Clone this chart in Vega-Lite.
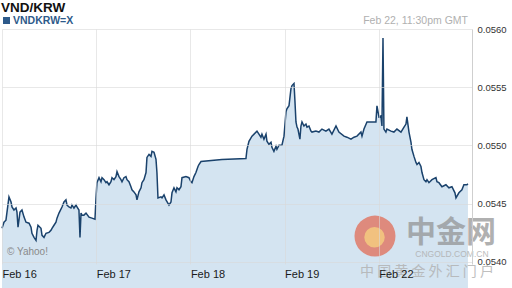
{
  "$schema": "https://vega.github.io/schema/vega-lite/v6.json",
  "width": 470,
  "height": 235,
  "autosize": {"type": "none"},
  "padding": {"left": 2, "top": 29, "right": 40, "bottom": 24},
  "background": "#ffffff",
  "config": {"view": {"stroke": null}, "font": "Liberation Sans"},
  "datasets": {
    "rate": [
      {"t":0.000,"v":0.054287},{"t":0.021,"v":0.054339},{"t":0.042,"v":0.054357},{"t":0.074,"v":0.054557},
      {"t":0.096,"v":0.054513},{"t":0.106,"v":0.054470},{"t":0.127,"v":0.054444},{"t":0.149,"v":0.054461},
      {"t":0.159,"v":0.054426},{"t":0.170,"v":0.054296},{"t":0.191,"v":0.054426},{"t":0.212,"v":0.054444},
      {"t":0.234,"v":0.054383},{"t":0.255,"v":0.054339},{"t":0.287,"v":0.054331},{"t":0.308,"v":0.054296},
      {"t":0.318,"v":0.054244},{"t":0.340,"v":0.054209},{"t":0.361,"v":0.054183},{"t":0.372,"v":0.054270},
      {"t":0.382,"v":0.054313},{"t":0.414,"v":0.054287},{"t":0.425,"v":0.054226},{"t":0.446,"v":0.054209},
      {"t":0.467,"v":0.054244},{"t":0.499,"v":0.054252},{"t":0.520,"v":0.054270},{"t":0.531,"v":0.054287},
      {"t":0.552,"v":0.054313},{"t":0.573,"v":0.054339},{"t":0.584,"v":0.054374},{"t":0.605,"v":0.054418},
      {"t":0.637,"v":0.054470},{"t":0.658,"v":0.054513},{"t":0.679,"v":0.054531},{"t":0.690,"v":0.054487},
      {"t":0.711,"v":0.054470},{"t":0.732,"v":0.054461},{"t":0.743,"v":0.054487},{"t":0.764,"v":0.054461},
      {"t":0.786,"v":0.054487},{"t":0.796,"v":0.054470},{"t":0.817,"v":0.054444},{"t":0.828,"v":0.054209},
      {"t":0.839,"v":0.054418},{"t":0.849,"v":0.054400},{"t":0.870,"v":0.054400},{"t":0.892,"v":0.054418},
      {"t":0.924,"v":0.054383},{"t":0.955,"v":0.054374},{"t":0.987,"v":0.054365},{"t":0.998,"v":0.054548},
      {"t":1.008,"v":0.054679},{"t":1.030,"v":0.054722},{"t":1.051,"v":0.054687},{"t":1.062,"v":0.054722},
      {"t":1.083,"v":0.054705},{"t":1.104,"v":0.054679},{"t":1.115,"v":0.054687},{"t":1.136,"v":0.054661},
      {"t":1.157,"v":0.054687},{"t":1.168,"v":0.054722},{"t":1.189,"v":0.054705},{"t":1.210,"v":0.054731},
      {"t":1.221,"v":0.054774},{"t":1.242,"v":0.054731},{"t":1.263,"v":0.054705},{"t":1.274,"v":0.054687},
      {"t":1.295,"v":0.054722},{"t":1.316,"v":0.054731},{"t":1.327,"v":0.054705},{"t":1.348,"v":0.054687},
      {"t":1.369,"v":0.054644},{"t":1.380,"v":0.054618},{"t":1.401,"v":0.054600},{"t":1.423,"v":0.054574},
      {"t":1.433,"v":0.054531},{"t":1.454,"v":0.054600},{"t":1.476,"v":0.054635},{"t":1.486,"v":0.054679},
      {"t":1.507,"v":0.054705},{"t":1.529,"v":0.054766},{"t":1.539,"v":0.054896},{"t":1.561,"v":0.054922},
      {"t":1.582,"v":0.054905},{"t":1.592,"v":0.054948},{"t":1.614,"v":0.054940},{"t":1.635,"v":0.054879},
      {"t":1.645,"v":0.054766},{"t":1.656,"v":0.054548},{"t":1.688,"v":0.054557},{"t":1.699,"v":0.054548},
      {"t":1.720,"v":0.054574},{"t":1.741,"v":0.054531},{"t":1.773,"v":0.054487},{"t":1.794,"v":0.054513},
      {"t":1.805,"v":0.054592},{"t":1.826,"v":0.054635},{"t":1.847,"v":0.054600},{"t":1.858,"v":0.054635},
      {"t":1.879,"v":0.054618},{"t":1.900,"v":0.054644},{"t":1.911,"v":0.054722},{"t":1.953,"v":0.054731},
      {"t":1.985,"v":0.054722},{"t":2.006,"v":0.054687},{"t":2.017,"v":0.054679},{"t":2.038,"v":0.054731},
      {"t":2.059,"v":0.054766},{"t":2.081,"v":0.054818},{"t":2.091,"v":0.054835},{"t":2.113,"v":0.054861},
      {"t":2.335,"v":0.054879},{"t":2.590,"v":0.054887},{"t":2.601,"v":0.054966},{"t":2.622,"v":0.055035},
      {"t":2.654,"v":0.055079},{"t":2.707,"v":0.055122},{"t":2.728,"v":0.055096},{"t":2.749,"v":0.055070},
      {"t":2.760,"v":0.055096},{"t":2.781,"v":0.055053},{"t":2.803,"v":0.055096},{"t":2.813,"v":0.055035},
      {"t":2.834,"v":0.055009},{"t":2.856,"v":0.055027},{"t":2.866,"v":0.054983},{"t":2.887,"v":0.054948},
      {"t":2.909,"v":0.054992},{"t":2.919,"v":0.054966},{"t":2.941,"v":0.055001},{"t":2.972,"v":0.055001},
      {"t":2.994,"v":0.055079},{"t":3.015,"v":0.055288},{"t":3.025,"v":0.055314},{"t":3.047,"v":0.055340},
      {"t":3.068,"v":0.055488},{"t":3.079,"v":0.055514},{"t":3.100,"v":0.055531},{"t":3.110,"v":0.055383},
      {"t":3.121,"v":0.055201},{"t":3.132,"v":0.055157},{"t":3.142,"v":0.055140},{"t":3.163,"v":0.055053},
      {"t":3.174,"v":0.055166},{"t":3.185,"v":0.055201},{"t":3.206,"v":0.055166},{"t":3.227,"v":0.055183},
      {"t":3.238,"v":0.055157},{"t":3.259,"v":0.055166},{"t":3.280,"v":0.055122},{"t":3.291,"v":0.055114},
      {"t":3.333,"v":0.055122},{"t":3.365,"v":0.055114},{"t":3.397,"v":0.055140},{"t":3.439,"v":0.055122},
      {"t":3.471,"v":0.055140},{"t":3.503,"v":0.055096},{"t":3.546,"v":0.055166},{"t":3.577,"v":0.055114},
      {"t":3.631,"v":0.055079},{"t":3.662,"v":0.055070},{"t":3.705,"v":0.055053},{"t":3.737,"v":0.055070},
      {"t":3.769,"v":0.055079},{"t":3.811,"v":0.055114},{"t":3.822,"v":0.055079},{"t":3.843,"v":0.055140},
      {"t":3.875,"v":0.055201},{"t":3.928,"v":0.055201},{"t":3.970,"v":0.055201},{"t":3.981,"v":0.055340},
      {"t":4.002,"v":0.055244},{"t":4.023,"v":0.055253},{"t":4.034,"v":0.055166},{"t":4.045,"v":0.055923},
      {"t":4.055,"v":0.055140},{"t":4.076,"v":0.055114},{"t":4.087,"v":0.055140},{"t":4.130,"v":0.055122},
      {"t":4.161,"v":0.055114},{"t":4.193,"v":0.055140},{"t":4.236,"v":0.055114},{"t":4.268,"v":0.055157},
      {"t":4.289,"v":0.055183},{"t":4.299,"v":0.055244},{"t":4.321,"v":0.055114},{"t":4.342,"v":0.055027},
      {"t":4.352,"v":0.054966},{"t":4.374,"v":0.054905},{"t":4.395,"v":0.054853},{"t":4.406,"v":0.054835},
      {"t":4.427,"v":0.054853},{"t":4.448,"v":0.054818},{"t":4.459,"v":0.054766},{"t":4.480,"v":0.054705},
      {"t":4.501,"v":0.054687},{"t":4.512,"v":0.054705},{"t":4.533,"v":0.054679},{"t":4.565,"v":0.054705},
      {"t":4.607,"v":0.054722},{"t":4.618,"v":0.054687},{"t":4.639,"v":0.054679},{"t":4.671,"v":0.054644},
      {"t":4.713,"v":0.054661},{"t":4.745,"v":0.054635},{"t":4.777,"v":0.054644},{"t":4.809,"v":0.054592},
      {"t":4.820,"v":0.054548},{"t":4.851,"v":0.054592},{"t":4.883,"v":0.054618},{"t":4.904,"v":0.054661},
      {"t":4.936,"v":0.054661},{"t":4.947,"v":0.054670}
    ],
    "one": [{}]
  },
  "layer": [
    {
      "data": {"name": "rate"},
      "mark": {
        "type": "area",
        "color": "#d4e4f1",
        "opacity": 1,
        "line": {"color": "#1a426c", "strokeWidth": 1.5}
      },
      "encoding": {
        "x": {
          "field": "t",
          "type": "quantitative",
          "scale": {"domain": [0, 4.99], "nice": false, "zero": false},
          "axis": {
            "title": null,
            "values": [0, 1, 2, 3, 4],
            "labelExpr": "['Feb 16','Feb 17','Feb 18','Feb 19','Feb 22'][datum.value]",
            "labelAlign": "left",
            "labelBaseline": "top",
            "labelPadding": 4,
            "labelFont": "Liberation Sans",
            "labelFontSize": 11,
            "labelColor": "#1a1a1a",
            "labelFlush": false,
            "labelOverlap": false,
            "ticks": false,
            "domain": false,
            "grid": true,
            "gridColor": "#d8d8d8",
            "gridOpacity": 0.6,
            "zindex": 1
          }
        },
        "y": {
          "field": "v",
          "type": "quantitative",
          "scale": {"domain": [0.05398, 0.0560], "nice": false, "zero": false},
          "axis": {
            "title": null,
            "orient": "right",
            "values": [0.054, 0.0545, 0.055, 0.0555, 0.056],
            "format": ".4f",
            "labelFont": "Liberation Sans",
            "labelFontSize": 9.5,
            "labelColor": "#333333",
            "labelPadding": 5,
            "labelFlush": false,
            "ticks": false,
            "domain": true,
            "domainColor": "#cfcfcf",
            "grid": true,
            "gridColor": "#d8d8d8",
            "gridOpacity": 0.6,
            "zindex": 1
          }
        }
      }
    },
    {
      "data": {"name": "one"},
      "mark": {"type": "text", "align": "left", "baseline": "middle", "font": "Liberation Sans", "fontSize": 13.5, "fontWeight": "bold", "color": "#111111", "dx": -1},
      "encoding": {
        "x": {"datum": 0, "type": "quantitative"},
        "y": {"datum": 0.056181, "type": "quantitative"},
        "text": {"value": "VND/KRW"}
      }
    },
    {
      "data": {"name": "one"},
      "mark": {"type": "text", "align": "left", "baseline": "middle", "font": "Liberation Sans", "fontSize": 10.5, "fontWeight": "bold", "color": "#2d5a8a"},
      "encoding": {
        "x": {"datum": 0.117, "type": "quantitative"},
        "y": {"datum": 0.056073, "type": "quantitative"},
        "text": {"value": "VNDKRW=X"}
      }
    },
    {
      "data": {"name": "one"},
      "mark": {"type": "point", "shape": "square", "filled": true, "size": 49, "color": "#2d5a8a", "opacity": 1},
      "encoding": {
        "x": {"datum": 0.048, "type": "quantitative"},
        "y": {"datum": 0.056073, "type": "quantitative"}
      }
    },
    {
      "data": {"name": "one"},
      "mark": {"type": "text", "align": "right", "baseline": "middle", "font": "Liberation Sans", "fontSize": 10.5, "color": "#b0b0b0", "dx": -4},
      "encoding": {
        "x": {"datum": 4.99, "type": "quantitative"},
        "y": {"datum": 0.056073, "type": "quantitative"},
        "text": {"value": "Feb 22, 11:30pm GMT"}
      }
    },
    {
      "data": {"name": "one"},
      "mark": {"type": "text", "align": "left", "baseline": "middle", "font": "Liberation Sans", "fontSize": 10, "color": "#8a8a8a"},
      "encoding": {
        "x": {"datum": 0.053, "type": "quantitative"},
        "y": {"datum": 0.054082, "type": "quantitative"},
        "text": {"value": "© Yahoo!"}
      }
    },
    {
      "data": {"name": "one"},
      "mark": {"type": "point", "shape": "circle", "filled": true, "size": 1681, "color": "#df7a68", "opacity": 0.85},
      "encoding": {
        "x": {"datum": 3.96, "type": "quantitative"},
        "y": {"datum": 0.05422, "type": "quantitative"}
      }
    },
    {
      "data": {"name": "one"},
      "mark": {"type": "point", "shape": "circle", "filled": true, "size": 420, "color": "#f3c77f", "opacity": 0.9},
      "encoding": {
        "x": {"datum": 3.955, "type": "quantitative"},
        "y": {"datum": 0.05421, "type": "quantitative"}
      }
    },
    {
      "data": {"name": "one"},
      "mark": {"type": "text", "align": "center", "baseline": "middle", "font": "Noto Sans CJK SC", "fontSize": 30, "fontWeight": "bold", "color": "#8f8f8f", "opacity": 0.7},
      "encoding": {
        "x": {"datum": 4.766, "type": "quantitative"},
        "y": {"datum": 0.054246, "type": "quantitative"},
        "text": {"value": "中金网"}
      }
    },
    {
      "data": {"name": "one"},
      "mark": {"type": "text", "align": "center", "baseline": "middle", "font": "Liberation Sans", "fontSize": 8.5, "color": "#b0b0b0", "opacity": 0.85},
      "encoding": {
        "x": {"datum": 4.777, "type": "quantitative"},
        "y": {"datum": 0.054065, "type": "quantitative"},
        "text": {"value": "CNGOLD.COM.CN"}
      }
    },
    {
      "data": {"name": "one"},
      "mark": {"type": "text", "align": "center", "baseline": "middle", "font": "Noto Sans CJK SC", "fontSize": 14, "color": "#b0b0b0", "opacity": 0.8},
      "encoding": {
        "x": {"datum": 4.512, "type": "quantitative"},
        "y": {"datum": 0.05391, "type": "quantitative"},
        "text": {"value": "中 国 黄 金 外 汇 门 户"}
      }
    }
  ]
}
